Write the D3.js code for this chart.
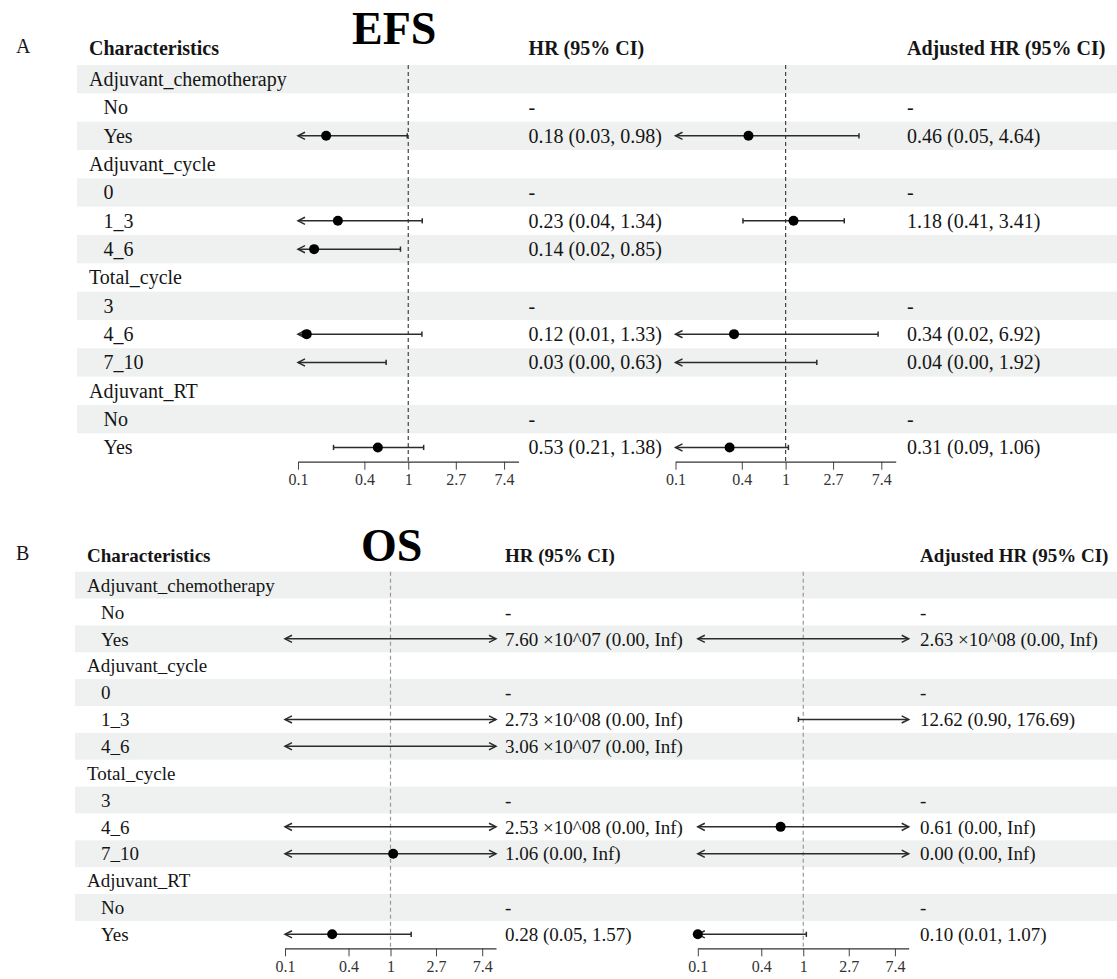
<!DOCTYPE html>
<html>
<head>
<meta charset="utf-8">
<script src="https://cdn.jsdelivr.net/npm/d3@7"></script>
<style>
  body { margin: 0; background: #fff; }
  text { font-family: "Liberation Serif", "Times New Roman", Times, serif; fill: #151515; }
  .tick text { font-size: 16px; fill: #333; }
</style>
</head>
<body>
<svg id="chart" width="1117" height="979"></svg>
<script>
// ---- table rows (shared by both panels) ----
const rowLabels = ["Adjuvant_chemotherapy", "No", "Yes", "Adjuvant_cycle", "0", "1_3", "4_6",
                   "Total_cycle", "3", "4_6", "7_10", "Adjuvant_RT", "No", "Yes"];
const rowIsGroup = [true, false, false, true, false, false, false, true, false, false, false, true, false, false];

// ---- log axis ----
const xDomain = [0.1, 10];
const tickValues = [0.1, 0.4, 1, 2.7, 7.4];
const tickLabels = ["0.1", "0.4", "1", "2.7", "7.4"];

// ---- EFS: univariate HR ----
const efsEst  = [null, null, 0.18, null, null, 0.23, 0.14, null, null, 0.12, 0.03, null, null, 0.53];
const efsLow  = [null, null, 0.03, null, null, 0.04, 0.02, null, null, 0.01, 0.00, null, null, 0.21];
const efsHigh = [null, null, 0.98, null, null, 1.34, 0.85, null, null, 1.33, 0.63, null, null, 1.38];
const efsText = ["", "-", "0.18 (0.03, 0.98)", "", "-", "0.23 (0.04, 1.34)", "0.14 (0.02, 0.85)",
                 "", "-", "0.12 (0.01, 1.33)", "0.03 (0.00, 0.63)", "", "-", "0.53 (0.21, 1.38)"];

// ---- EFS: adjusted HR ----
const efsAdjEst  = [null, null, 0.46, null, null, 1.18, null, null, null, 0.34, 0.04, null, null, 0.31];
const efsAdjLow  = [null, null, 0.05, null, null, 0.41, null, null, null, 0.02, 0.00, null, null, 0.09];
const efsAdjHigh = [null, null, 4.64, null, null, 3.41, null, null, null, 6.92, 1.92, null, null, 1.06];
const efsAdjText = ["", "-", "0.46 (0.05, 4.64)", "", "-", "1.18 (0.41, 3.41)", "",
                    "", "-", "0.34 (0.02, 6.92)", "0.04 (0.00, 1.92)", "", "-", "0.31 (0.09, 1.06)"];

// ---- OS: univariate HR ----
const osEst  = [null, null, 7.60e7, null, null, 2.73e8, 3.06e7, null, null, 2.53e8, 1.06, null, null, 0.28];
const osLow  = [null, null, 0, null, null, 0, 0, null, null, 0, 0, null, null, 0.05];
const osHigh = [null, null, Infinity, null, null, Infinity, Infinity, null, null, Infinity, Infinity, null, null, 1.57];
const osText = ["", "-", "7.60 ×10^07 (0.00, Inf)", "", "-", "2.73 ×10^08 (0.00, Inf)", "3.06 ×10^07 (0.00, Inf)",
                "", "-", "2.53 ×10^08 (0.00, Inf)", "1.06 (0.00, Inf)", "", "-", "0.28 (0.05, 1.57)"];

// ---- OS: adjusted HR ----
const osAdjEst  = [null, null, 2.63e8, null, null, 12.62, null, null, null, 0.61, 0.00, null, null, 0.10];
const osAdjLow  = [null, null, 0, null, null, 0.90, null, null, null, 0, 0, null, null, 0.01];
const osAdjHigh = [null, null, Infinity, null, null, 176.69, null, null, null, Infinity, Infinity, null, null, 1.07];
const osAdjText = ["", "-", "2.63 ×10^08 (0.00, Inf)", "", "-", "12.62 (0.90, 176.69)", "",
                   "", "-", "0.61 (0.00, Inf)", "0.00 (0.00, Inf)", "", "-", "0.10 (0.01, 1.07)"];

const svg = d3.select("#chart");
svg.append("rect").attr("width", 1117).attr("height", 979).attr("fill", "#fff");

const panels = [
  {
    letter: "A", title: "EFS",
    top: 65, rowH: 28.33, headerY: 55, titleX: 352, titleY: 44, letterY: 53,
    shadeX: 77, groupX: 89, subX: 103.5, fs: 20,
    hrRange: [298, 518.5], adjRange: [675.5, 895.7], hrTextX: 528.6, adjTextX: 907,
    axisY: 461.7, refColor: "#444",
    hr: { est: efsEst, low: efsLow, high: efsHigh, text: efsText },
    adj: { est: efsAdjEst, low: efsAdjLow, high: efsAdjHigh, text: efsAdjText }
  },
  {
    letter: "B", title: "OS",
    top: 571.7, rowH: 26.86, headerY: 562, titleX: 361, titleY: 561, letterY: 560,
    shadeX: 75, groupX: 87, subX: 101, fs: 19,
    hrRange: [285, 496], adjRange: [697.8, 908.7], hrTextX: 505, adjTextX: 920,
    axisY: 948.3, refColor: "#999",
    hr: { est: osEst, low: osLow, high: osHigh, text: osText },
    adj: { est: osAdjEst, low: osAdjLow, high: osAdjHigh, text: osAdjText }
  }
];

const lineColor = "#2b2b2b";

function drawForest(g, p, range, series) {
  const x = d3.scaleLog().domain(xDomain).range(range);
  const [dmin, dmax] = xDomain;
  const yMid = i => p.top + (i + 0.5) * p.rowH;

  // reference line at HR = 1
  g.append("line")
    .attr("x1", x(1)).attr("x2", x(1))
    .attr("y1", p.top).attr("y2", p.axisY)
    .attr("stroke", p.refColor).attr("stroke-width", 1.2)
    .attr("stroke-dasharray", "4,3");

  series.est.forEach((est, i) => {
    const lo = series.low[i], hi = series.high[i];
    if (lo === null || hi === null) return;
    const yc = yMid(i);
    const leftOut = lo < dmin, rightOut = hi > dmax;
    const x0 = leftOut ? x(dmin) : x(lo);
    const x1 = rightOut ? x(dmax) : x(hi);
    const ci = g.append("g").attr("stroke", lineColor).attr("stroke-width", 1.5).attr("fill", "none");
    ci.append("line").attr("x1", x0).attr("x2", x1).attr("y1", yc).attr("y2", yc);
    if (leftOut) {
      ci.append("path").attr("d", `M${x0 + 7},${yc - 3.6}L${x0},${yc}L${x0 + 7},${yc + 3.6}`);
    } else {
      ci.append("line").attr("x1", x0).attr("x2", x0).attr("y1", yc - 2.6).attr("y2", yc + 2.6);
    }
    if (rightOut) {
      ci.append("path").attr("d", `M${x1 - 7},${yc - 3.6}L${x1},${yc}L${x1 - 7},${yc + 3.6}`);
    } else {
      ci.append("line").attr("x1", x1).attr("x2", x1).attr("y1", yc - 2.6).attr("y2", yc + 2.6);
    }
    if (est !== null && est >= dmin && est <= dmax) {
      g.append("circle").attr("cx", x(est)).attr("cy", yc).attr("r", 5).attr("fill", "#000");
    }
  });

  // x axis
  const axis = d3.axisBottom(x)
    .tickValues(tickValues)
    .tickFormat((d, i) => tickLabels[i])
    .tickSize(8).tickSizeOuter(0).tickPadding(4);
  const ag = g.append("g").attr("transform", `translate(0,${p.axisY})`).call(axis);
  ag.select(".domain").attr("stroke", "#333").attr("stroke-width", 1.2);
  ag.selectAll(".tick line").attr("stroke", "#444").attr("stroke-width", 1);
}

panels.forEach(p => {
  const g = svg.append("g");
  const yMid = i => p.top + (i + 0.5) * p.rowH;
  const base = i => yMid(i) + 0.35 * p.fs;

  // zebra shading
  g.selectAll("rect.band")
    .data(rowLabels.map((d, i) => i).filter(i => i % 2 === 0))
    .join("rect")
    .attr("x", p.shadeX).attr("width", 1117 - p.shadeX)
    .attr("y", i => p.top + i * p.rowH).attr("height", p.rowH)
    .attr("fill", "#eef1f0");

  // panel letter & title
  g.append("text").attr("x", 16).attr("y", p.letterY).attr("font-size", 20).text(p.letter);
  g.append("text").attr("x", p.titleX).attr("y", p.titleY)
    .attr("font-size", 46).attr("font-weight", "bold").style("fill", "#000").text(p.title);

  // column headers
  const hdr = [["Characteristics", p.groupX], ["HR (95% CI)", p.hrTextX], ["Adjusted HR (95% CI)", p.adjTextX]];
  hdr.forEach(([t, xx]) => g.append("text").attr("x", xx).attr("y", p.headerY)
    .attr("font-size", p.fs).attr("font-weight", "bold").text(t));

  drawForest(g, p, p.hrRange, p.hr);
  drawForest(g, p, p.adjRange, p.adj);

  // row labels
  g.selectAll("text.lab").data(rowLabels).join("text")
    .attr("x", (d, i) => rowIsGroup[i] ? p.groupX : p.subX)
    .attr("y", (d, i) => base(i))
    .attr("font-size", p.fs).text(d => d);

  // estimate text columns
  [[p.hr.text, p.hrTextX], [p.adj.text, p.adjTextX]].forEach(([arr, xx]) => {
    g.selectAll(null).data(arr).join("text")
      .attr("x", xx).attr("y", (d, i) => base(i))
      .attr("font-size", p.fs).text(d => d);
  });
});
</script>
</body>
</html>
